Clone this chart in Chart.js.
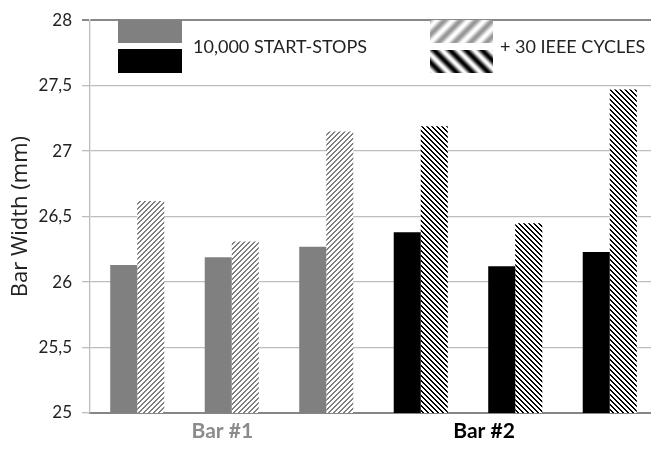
<!DOCTYPE html>
<html>
<head>
<meta charset="utf-8">
<script src="https://cdn.jsdelivr.net/npm/chart.js@4.4.1/dist/chart.umd.min.js"></script>
<style>
  html, body { margin: 0; padding: 0; background: #fff; overflow: hidden; }
</style>
</head>
<body>
<canvas id="chart" width="657" height="454"></canvas>
<script>
// measurements per pair of bars (mm)
const groups = ['1', '2', '3', '4', '5', '6'];
const barOf = [0, 0, 0, 1, 1, 1];           // which bar each pair belongs to
const startStops = [26.13, 26.19, 26.27, 26.38, 26.12, 26.23];
const ieeeCycles = [26.62, 26.31, 27.15, 27.19, 26.45, 27.47];
const barLabels = ['Bar #1', 'Bar #2'];
const barLabelPos = [1.4, 4.17];
const yMin = 25, yMax = 28, yStep = 0.5;

const FONT = 'Lato, "Noto Sans", sans-serif';
const GRAY = '#808080';
const BLACK = '#000000';
const labelColors = ['#8c8c8c', '#000000'];

const canvas = document.getElementById('chart');
const ctx = canvas.getContext('2d');

// small diagonal hatch for the bars
function hatch(color, dir) {
  const n = 5;
  const c = document.createElement('canvas');
  c.width = n; c.height = n;
  const g = c.getContext('2d');
  g.fillStyle = '#fff';
  g.fillRect(0, 0, n, n);
  g.fillStyle = color;
  for (let x = 0; x < n; x++) {
    for (let y = 0; y < n; y++) {
      const k = dir > 0 ? (x + y) % n : ((x - y) % n + n) % n;
      if (k < 2) g.fillRect(x, y, 1, 1);
    }
  }
  return ctx.createPattern(c, 'repeat');
}

// big soft stripes used in the legend boxes
function softStripes(dark, dir) {
  const n = 16;
  const c = document.createElement('canvas');
  c.width = n; c.height = n;
  const g = c.getContext('2d');
  const img = g.createImageData(n, n);
  for (let x = 0; x < n; x++) {
    for (let y = 0; y < n; y++) {
      const t = dir > 0 ? (x + y) : (x - y);
      const s = 0.5 + 0.5 * Math.cos(2 * Math.PI * t / n);
      const v = Math.round(255 - s * (255 - dark));
      const i = (y * n + x) * 4;
      img.data[i] = v; img.data[i + 1] = v; img.data[i + 2] = v; img.data[i + 3] = 255;
    }
  }
  g.putImageData(img, 0, 0);
  return ctx.createPattern(c, 'repeat');
}

const solidColors = barOf.map(b => b === 0 ? GRAY : BLACK);
const hatchGray = hatch(GRAY, 1);
const hatchBlack = hatch(BLACK, -1);
const hatchColors = barOf.map(b => b === 0 ? hatchGray : hatchBlack);

// two-row legend boxes like the original
const legendPlugin = {
  id: 'boxLegend',
  afterDraw(chart) {
    const c = chart.ctx;
    c.save();
    c.fillStyle = GRAY;
    c.fillRect(118, 20, 64, 23);
    c.fillStyle = BLACK;
    c.fillRect(118, 49, 64, 24);
    c.fillStyle = softStripes(150, 1);
    c.fillRect(430, 20, 63, 23);
    c.fillStyle = softStripes(0, -1);
    c.fillRect(430, 50, 63, 23);

    c.fillStyle = '#222';
    c.font = '18px ' + FONT;
    c.textBaseline = 'middle';
    c.textAlign = 'left';
    c.fillText(chart.data.datasets[0].label, 193, 47);
    c.fillText(chart.data.datasets[1].label, 500, 47);
    c.restore();
  }
};

new Chart(ctx, {
  type: 'bar',
  data: {
    labels: groups,
    datasets: [
      {
        label: '10,000 START-STOPS',
        data: startStops,
        backgroundColor: solidColors,
        borderWidth: 0
      },
      {
        label: '+ 30 IEEE CYCLES',
        data: ieeeCycles,
        backgroundColor: hatchColors,
        borderWidth: 0
      }
    ]
  },
  options: {
    responsive: false,
    animation: false,
    layout: { padding: { top: 14, left: 0, right: 0, bottom: 0 } },
    datasets: {
      bar: { categoryPercentage: 0.572, barPercentage: 1.0 }
    },
    plugins: {
      legend: { display: false },
      tooltip: { enabled: false }
    },
    scales: {
      x: {
        type: 'category',
        grid: { display: false, drawTicks: false },
        border: { display: true, color: '#868686', width: 2 },
        ticks: { display: false },
        afterFit: s => { s.height = 0; }
      },
      x2: {
        type: 'linear',
        position: 'bottom',
        offset: false,
        min: 0,
        max: groups.length,
        grid: { display: false, drawTicks: false, offset: false },
        border: { display: false },
        afterBuildTicks: s => { s.ticks = barLabelPos.map(v => ({ value: v })); },
        ticks: {
          autoSkip: false,
          maxRotation: 0,
          padding: 6,
          callback: (v, i) => barLabels[i],
          color: c => labelColors[c.index],
          font: { family: FONT, size: 21, weight: 'bold' }
        },
        afterFit: s => { s.height = 41; }
      },
      y: {
        min: yMin,
        max: yMax,
        title: {
          display: true,
          text: 'Bar Width (mm)',
          color: '#222',
          font: { family: '"Open Sans", sans-serif', size: 22 },
          padding: { top: 8, bottom: 0 }
        },
        ticks: {
          stepSize: yStep,
          padding: 10,
          color: '#222',
          font: { family: FONT, size: 17 },
          callback: v => String(v).replace('.', ',')
        },
        grid: {
          color: c => c.tick && c.tick.value === yMax ? '#888' : '#bdbdbd',
          lineWidth: c => c.tick && c.tick.value === yMax ? 2 : 1.3,
          tickLength: 8
        },
        border: { color: '#bdbdbd', width: 1.3 },
        afterFit: s => { s.width = 90; }
      }
    }
  },
  plugins: [legendPlugin]
});
</script>
</body>
</html>
